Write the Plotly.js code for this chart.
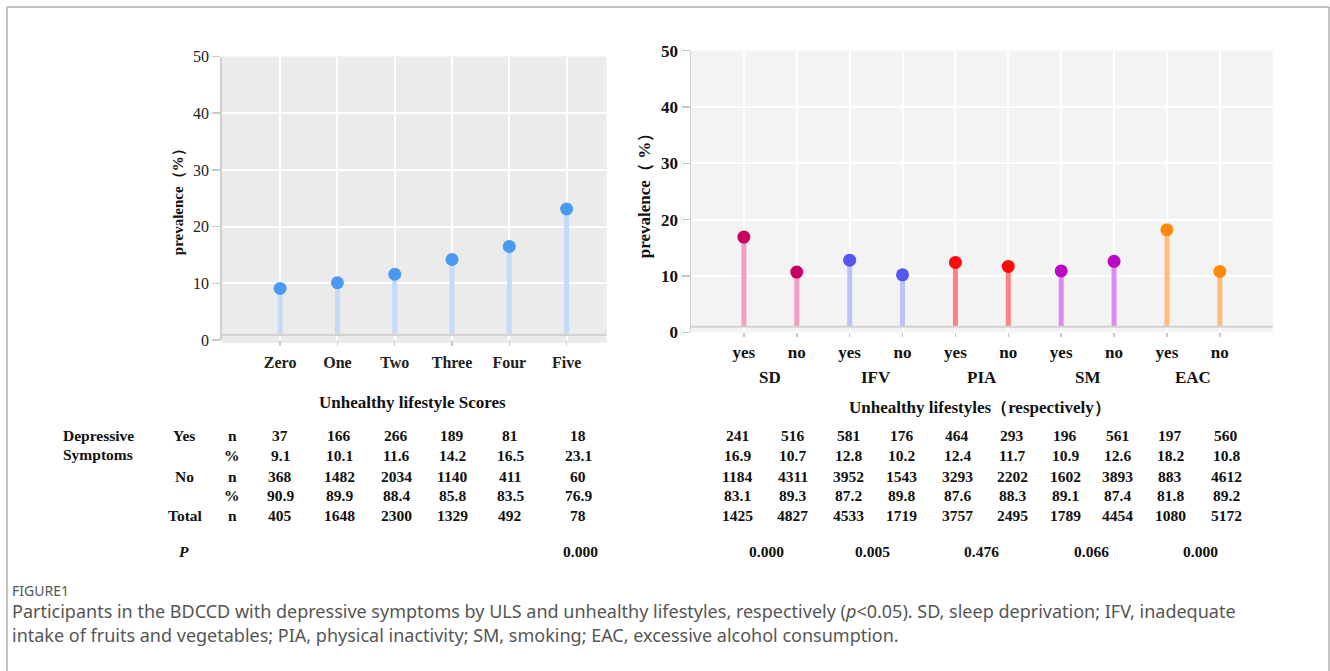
<!DOCTYPE html>
<html>
<head>
<meta charset="utf-8">
<script src="https://cdn.plot.ly/plotly-3.0.1.min.js"></script>
<style>html,body{margin:0;padding:0;background:#fff;}#chart{width:1330px;height:671px;}</style>
</head>
<body>
<div id="chart"></div>
<script>
// ---------- data ----------
const scoreLabels = ["Zero", "One", "Two", "Three", "Four", "Five"];
const scorePrevalence = [9.1, 10.1, 11.6, 14.2, 16.5, 23.1];

const lifestyleGroups = ["SD", "IFV", "PIA", "SM", "EAC"];
const yesNoLabels = ["yes", "no", "yes", "no", "yes", "no", "yes", "no", "yes", "no"];
const lifestylePrevalence = [16.9, 10.7, 12.8, 10.2, 12.4, 11.7, 10.9, 12.6, 18.2, 10.8];

// left table
const leftYesN   = ["37", "166", "266", "189", "81", "18"];
const leftYesPct = ["9.1", "10.1", "11.6", "14.2", "16.5", "23.1"];
const leftNoN    = ["368", "1482", "2034", "1140", "411", "60"];
const leftNoPct  = ["90.9", "89.9", "88.4", "85.8", "83.5", "76.9"];
const leftTotal  = ["405", "1648", "2300", "1329", "492", "78"];
const leftP      = "0.000";

// right table
const rightYesN   = ["241", "516", "581", "176", "464", "293", "196", "561", "197", "560"];
const rightYesPct = ["16.9", "10.7", "12.8", "10.2", "12.4", "11.7", "10.9", "12.6", "18.2", "10.8"];
const rightNoN    = ["1184", "4311", "3952", "1543", "3293", "2202", "1602", "3893", "883", "4612"];
const rightNoPct  = ["83.1", "89.3", "87.2", "89.8", "87.6", "88.3", "89.1", "87.4", "81.8", "89.2"];
const rightTotal  = ["1425", "4827", "4533", "1719", "3757", "2495", "1789", "4454", "1080", "5172"];
const rightP      = ["0.000", "0.005", "0.476", "0.066", "0.000"];

// ---------- styling / layout constants ----------
const W = 1330, H = 671;
const px = x => x / W;
const py = y => 1 - y / H;
const SERIF = "Liberation Serif, Times New Roman, serif";
const SANS = "Noto Sans, Open Sans, sans-serif";
const TABLE_SIZE = 15.5;

const leftMarker = "#4a9af2", leftStem = "#c3dbf6";
const groupMarker = ["#c8005f", "#5656f2", "#ff0a0a", "#bb08c4", "#ff8a0a"];
const groupStem   = ["#f79bc3", "#bfc1fb", "#ff8282", "#dd8af0", "#ffbd7c"];

const leftBase = 0.9, rightBase = 1.0;

const traces = [];
// left stems
{
  const xs = [], ys = [];
  scorePrevalence.forEach((v, i) => { xs.push(i, i, null); ys.push(leftBase, v, null); });
  traces.push({type: "scatter", mode: "lines", x: xs, y: ys, xaxis: "x", yaxis: "y",
    line: {color: leftStem, width: 5}, hoverinfo: "skip", showlegend: false});
  traces.push({type: "scatter", mode: "markers", x: scorePrevalence.map((v, i) => i), y: scorePrevalence,
    xaxis: "x", yaxis: "y", marker: {color: leftMarker, size: 13}, showlegend: false});
}
// right stems per group
lifestyleGroups.forEach((g, gi) => {
  const xs = [], ys = [], mx = [], my = [];
  for (let k = 0; k < 2; k++) {
    const i = gi * 2 + k, v = lifestylePrevalence[i];
    xs.push(i, i, null); ys.push(rightBase, v, null);
    mx.push(i); my.push(v);
  }
  traces.push({type: "scatter", mode: "lines", x: xs, y: ys, xaxis: "x2", yaxis: "y2",
    line: {color: groupStem[gi], width: 5}, hoverinfo: "skip", showlegend: false, name: g});
  traces.push({type: "scatter", mode: "markers", x: mx, y: my, xaxis: "x2", yaxis: "y2",
    marker: {color: groupMarker[gi], size: 13}, showlegend: false, name: g});
});

const annotations = [];
function txt(x, y, text, opts = {}) {
  annotations.push(Object.assign({
    xref: "paper", yref: "paper", x: px(x), y: py(y), text: text, showarrow: false,
    xanchor: "center", yanchor: "middle",
    font: {family: SERIF, size: TABLE_SIZE, color: "#111"}
  }, opts));
}

// group labels (right chart)
lifestyleGroups.forEach((g, gi) => {
  annotations.push({xref: "x2", yref: "paper", x: gi * 2 + 0.5, y: py(377), text: "<b>" + g + "</b>",
    showarrow: false, xanchor: "center", yanchor: "middle",
    font: {family: SERIF, size: 17, color: "#111"}});
});

// axis titles (x) as annotations
txt(412, 402, "<b>Unhealthy lifestyle Scores</b>", {font: {family: SERIF, size: 17, color: "#111"}});
txt(980, 407, "<b>Unhealthy lifestyles（respectively）</b>", {font: {family: SERIF, size: 17, color: "#111"}});

// left table
const leftCols = [280, 339, 396, 452, 510, 578];
const rowsY = [436, 455, 476, 495, 515];
txt(61, 436, "<b>Depressive</b>", {xanchor: "left"});
txt(61, 454, "<b>Symptoms</b>", {xanchor: "left"});
txt(184, 436, "<b>Yes</b>");
txt(184, 476, "<b>No</b>");
txt(186, 515, "<b>Total</b>");
txt(184, 551, "<b><i>P</i></b>");
["n", "%", "n", "%", "n"].forEach((s, r) => txt(232, rowsY[r], "<b>" + s + "</b>"));
[leftYesN, leftYesPct, leftNoN, leftNoPct, leftTotal].forEach((row, r) => {
  row.forEach((v, c) => txt(leftCols[c], rowsY[r], "<b>" + v + "</b>"));
});
txt(580, 551, "<b>" + leftP + "</b>");

// right table
const rightCols = [737, 793, 848, 902, 957, 1012, 1065, 1117, 1170, 1226];
[rightYesN, rightYesPct, rightNoN, rightNoPct, rightTotal].forEach((row, r) => {
  row.forEach((v, c) => txt(rightCols[c], rowsY[r], "<b>" + v + "</b>"));
});
const rightPCols = [766, 873, 981, 1091, 1200];
rightP.forEach((v, i) => txt(rightPCols[i], 551, "<b>" + v + "</b>"));

// caption
txt(10, 590, "FIGURE1", {xanchor: "left", font: {family: SANS, size: 14, color: "#555"}});
txt(10, 611, "Participants in the BDCCD with depressive symptoms by ULS and unhealthy lifestyles, respectively (<i>p</i>&lt;0.05). SD, sleep deprivation; IFV, inadequate",
  {xanchor: "left", font: {family: SANS, size: 18, color: "#555"}});
txt(10, 635, "intake of fruits and vegetables; PIA, physical inactivity; SM, smoking; EAC, excessive alcohol consumption.",
  {xanchor: "left", font: {family: SANS, size: 18, color: "#555"}});

const shapes = [
  // frame
  {type: "line", xref: "paper", yref: "paper", x0: px(7), x1: px(1329), y0: py(7), y1: py(7), line: {color: "#b0b0b0", width: 1.5}},
  {type: "line", xref: "paper", yref: "paper", x0: px(7), x1: px(7), y0: py(7), y1: py(671), line: {color: "#b0b0b0", width: 1.5}},
  {type: "line", xref: "paper", yref: "paper", x0: px(1329), x1: px(1329), y0: py(7), y1: py(671), line: {color: "#b0b0b0", width: 1.5}},
  // base lines
  {type: "line", xref: "x domain", yref: "y", x0: 0, x1: 1, y0: leftBase, y1: leftBase, line: {color: "#d2d2d2", width: 2}},
  {type: "line", xref: "x2 domain", yref: "y2", x0: 0, x1: 1, y0: rightBase, y1: rightBase, line: {color: "#d2d2d2", width: 2}},
];

const layout = {
  width: W, height: H,
  margin: {l: 0, r: 0, t: 0, b: 0},
  paper_bgcolor: "#ffffff",
  showlegend: false,
  xaxis: {
    domain: [px(221.7), px(606.7)], range: [-1.02, 5.7],
    tickvals: scoreLabels.map((s, i) => i), ticktext: scoreLabels.map(s => "<b>" + s + "</b>"),
    showgrid: true, gridcolor: "#ffffff", gridwidth: 2, zeroline: false, showline: false,
    ticks: "outside", ticklen: 5, tickcolor: "#c8c8c8", tickwidth: 1.5, ticklabelstandoff: 3,
    tickfont: {family: SERIF, size: 16, color: "#222"}, fixedrange: true
  },
  yaxis: {
    domain: [py(340), py(56.5)], range: [0, 50], tickvals: [0, 10, 20, 30, 40, 50],
    showgrid: true, gridcolor: "#ffffff", gridwidth: 2, zeroline: false,
    showline: true, linecolor: "#cfcfcf", linewidth: 1.5,
    ticks: "outside", ticklen: 8, tickcolor: "#c8c8c8", tickwidth: 1.5,
    tickfont: {family: SERIF, size: 16, color: "#222"},
    title: {text: "<b>prevalence（%）</b>", font: {family: SERIF, size: 15, color: "#111"}, standoff: 6},
    fixedrange: true
  },
  xaxis2: {
    domain: [px(691), px(1272.7)], range: [-1, 10], anchor: "y2",
    tickvals: yesNoLabels.map((s, i) => i), ticktext: yesNoLabels.map(s => "<b>" + s + "</b>"),
    showgrid: true, gridcolor: "#ffffff", gridwidth: 2, zeroline: false, showline: false,
    ticks: "outside", ticklen: 4, tickcolor: "#c8c8c8", tickwidth: 1.5, ticklabelstandoff: 0,
    tickfont: {family: SERIF, size: 17, color: "#111"}, fixedrange: true
  },
  yaxis2: {
    domain: [py(332.3), py(50.7)], range: [0, 50], anchor: "x2", tickvals: [0, 10, 20, 30, 40, 50],
    showgrid: true, gridcolor: "#ffffff", gridwidth: 2, zeroline: false,
    showline: true, linecolor: "#cfcfcf", linewidth: 1.5,
    ticks: "outside", ticklen: 8, tickcolor: "#c8c8c8", tickwidth: 1.5,
    tickfont: {family: SERIF, size: 17, color: "#111", weight: "bold"},
    title: {text: "<b>prevalence（ %）</b>", font: {family: SERIF, size: 17, color: "#111"}, standoff: 6},
    fixedrange: true
  },
  plot_bgcolor: "rgba(0,0,0,0)",
  annotations: annotations,
  shapes: shapes
};

layout.shapes.unshift({type: "rect", xref: "x domain", yref: "y domain", x0: 0, x1: 1, y0: -0.01, y1: 1,
  fillcolor: "#ebebeb", line: {width: 0}, layer: "below"});
layout.shapes.unshift({type: "rect", xref: "x2 domain", yref: "y2 domain", x0: 0, x1: 1, y0: 0, y1: 1,
  fillcolor: "#f3f3f3", line: {width: 0}, layer: "below"});

Plotly.newPlot("chart", traces, layout, {displayModeBar: false, staticPlot: true});
</script>
</body>
</html>
